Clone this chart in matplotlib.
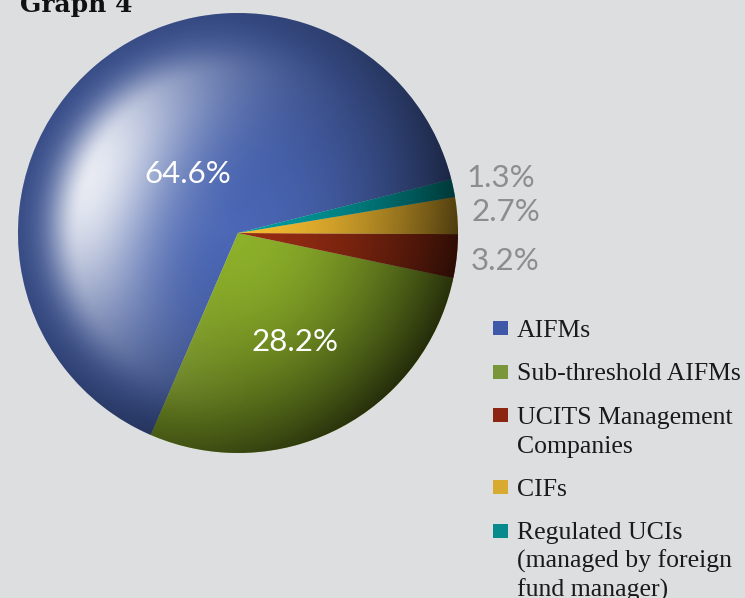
import matplotlib
matplotlib.use("Agg")
import matplotlib.pyplot as plt
from matplotlib.patches import Circle, Rectangle
import numpy as np

# data
categories = ["AIFMs", "Sub-threshold AIFMs", "UCITS Management\nCompanies",
              "CIFs", "Regulated UCIs\n(managed by foreign\nfund manager)"]
shares = [64.6, 28.2, 3.2, 2.7, 1.3]
pct_labels = ["64.6%", "28.2%", "3.2%", "2.7%", "1.3%"]

slice_colors = ["#4A66B4", "#8DB02A", "#962C12", "#F2BA30", "#009A9C"]
legend_colors = ["#3F58A8", "#7A963A", "#8C2613", "#D9AA30", "#068A8E"]

W, H = 745, 598
bg = "#DDDEE0"

fig = plt.figure(figsize=(W / 100, H / 100), dpi=100, facecolor=bg)

# pie: centre (238, 233) px, radius 220 px
cx, cy, R = 238, 233, 220
ax = fig.add_axes([(cx - R) / W, (H - cy - R) / H, 2 * R / W, 2 * R / H])
ax.set_facecolor(bg)

wedges, _ = ax.pie(shares, colors=slice_colors, startangle=14.1, counterclock=True,
                   radius=1, wedgeprops=dict(linewidth=0, antialiased=True))
ax.set_xlim(-1, 1)
ax.set_ylim(-1, 1)
ax.set_aspect("equal")
ax.axis("off")

# lighting overlay (shadow towards lower right, glossy highlight upper left)
n = 700
g = np.linspace(-1, 1, n)
u, v = np.meshgrid(g, g)
r = np.sqrt(u ** 2 + v ** 2)
th = np.arctan2(v, u)

ths = np.deg2rad(-35)
s = r ** 1.8 * (0.25 + 0.5 * (0.5 + 0.5 * np.cos(th - ths)) ** 1.5)
s = np.clip(s, 0, 0.75)
shadow = np.zeros((n, n, 4))
shadow[..., 3] = s

thh = np.deg2rad(160)
ang = (0.5 + 0.5 * np.cos(th - thh)) ** 4
rad = np.where(r < 0.72, np.exp(-((r - 0.72) / 0.35) ** 2),
               np.exp(-((r - 0.72) / 0.14) ** 2))
hl = 0.88 * ang * rad
light = np.ones((n, n, 4))
light[..., 3] = np.clip(hl, 0, 1)

clip = Circle((0, 0), 1, transform=ax.transData)
for img in (shadow, light):
    im = ax.imshow(img, extent=(-1, 1, -1, 1), origin="lower",
                   interpolation="bilinear", zorder=3)
    im.set_clip_path(clip)
ax.set_xlim(-1, 1)
ax.set_ylim(-1, 1)

# percentage labels
dists = [0.35, 0.56, 1.22, 1.22, 1.22]
txt_colors = ["white", "white", "#8C8D8F", "#8C8D8F", "#8C8D8F"]
for w, lab, d, c in zip(wedges, pct_labels, dists, txt_colors):
    a = np.deg2rad((w.theta1 + w.theta2) / 2)
    ax.text(d * np.cos(a), d * np.sin(a), lab, ha="center", va="center",
            color=c, fontsize=22.5, family="Lato", weight="normal", zorder=5)

# title (cut off at top)
fig.text(20 / W, 1 - 12 / H, "Graph 4", ha="left", va="baseline",
         fontsize=18, family="DejaVu Serif", weight="bold", color="#111111")

# legend
y = 337
line_h = 28.5
for lab, c in zip(categories, legend_colors):
    fig.patches.append(Rectangle((493 / W, 1 - (y - 2) / H), 15 / W, 14 / H,
                                 transform=fig.transFigure, facecolor=c,
                                 edgecolor="none"))
    for k, line in enumerate(lab.split("\n")):
        fig.text(517 / W, 1 - (y + k * line_h) / H, line, ha="left", va="baseline",
                 fontsize=18.5, family="Liberation Serif", color="#1A1A1A")
    y += 43.5 + line_h * lab.count("\n")

fig.savefig("out.png", dpi=100, facecolor=bg)
